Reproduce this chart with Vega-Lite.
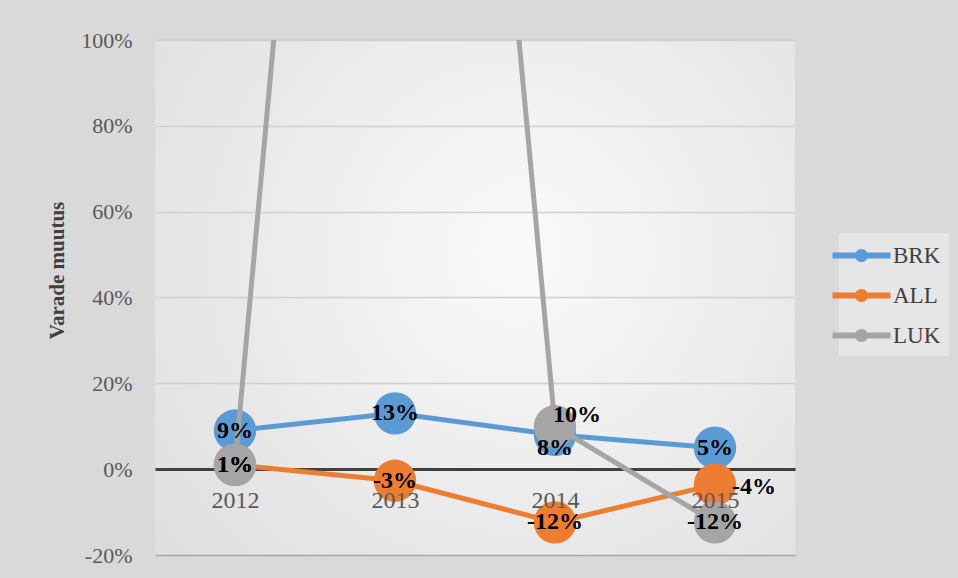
{
  "$schema": "https://vega.github.io/schema/vega-lite/v6.json",
  "width": 640,
  "height": 515,
  "autosize": {"type": "none"},
  "padding": {"left": 155, "top": 40, "right": 163, "bottom": 23},
  "background": "#d9d9d9",
  "config": {
    "locale": {
      "number": {"decimal": ".", "thousands": ",", "grouping": [3], "currency": ["$", ""], "minus": "-", "percent": "%"}
    },
    "font": "Liberation Serif",
    "view": {
      "stroke": null,
      "fill": {
        "gradient": "radial",
        "x1": 0.57, "y1": 0.43, "r1": 0,
        "x2": 0.57, "y2": 0.43, "r2": 0.8,
        "stops": [
          {"offset": 0, "color": "#fafafa"},
          {"offset": 1, "color": "#dcdcdc"}
        ]
      }
    }
  },
  "data": {
    "values": [
      {"series": "BRK", "year": "2012", "value": 0.09},
      {"series": "BRK", "year": "2013", "value": 0.13},
      {"series": "BRK", "year": "2014", "value": 0.08},
      {"series": "BRK", "year": "2015", "value": 0.05},
      {"series": "ALL", "year": "2012", "value": 0.01},
      {"series": "ALL", "year": "2013", "value": -0.027},
      {"series": "ALL", "year": "2014", "value": -0.124},
      {"series": "ALL", "year": "2015", "value": -0.036},
      {"series": "LUK", "year": "2012", "value": 0.01},
      {"series": "LUK", "year": "2013", "value": 4.1},
      {"series": "LUK", "year": "2014", "value": 0.10},
      {"series": "LUK", "year": "2015", "value": -0.124}
    ]
  },
  "resolve": {"axis": {"x": "independent"}},
  "encoding": {
    "x": {"field": "year", "type": "ordinal", "scale": {"type": "point", "padding": 0.5}, "axis": null},
    "y": {
      "field": "value", "type": "quantitative",
      "scale": {"domain": [-0.2, 1], "nice": false, "zero": false},
      "axis": {
        "values": [-0.2, 0, 0.2, 0.4, 0.6, 0.8, 1],
        "format": ".0%",
        "ticks": false,
        "domain": false,
        "grid": true,
        "gridColor": {"condition": {"test": "datum.value < -0.1", "value": "#a6a6a6"}, "value": "#d0d0d0"},
        "gridWidth": 1.5,
        "labelFont": "Liberation Serif",
        "labelFontSize": 22,
        "labelColor": "#595959",
        "labelPadding": 23,
        "title": "Varade muutus",
        "titleFont": "Liberation Serif",
        "titleFontSize": 21,
        "titleFontWeight": "bold",
        "titleColor": "#404040",
        "titleAngle": 270,
        "titleAlign": "center",
        "titleBaseline": "middle",
        "titleX": -98,
        "titleY": 230
      }
    },
    "color": {
      "field": "series", "type": "nominal",
      "scale": {"domain": ["BRK", "ALL", "LUK"], "range": ["#5b9bd5", "#ed7d31", "#a5a5a5"]},
      "legend": {
        "title": null,
        "orient": "none",
        "legendX": 684,
        "legendY": 193,
        "symbolType": "M-2,-0.2L-0.3,-0.2L-0.3,0.2L-2,0.2Z M0.3,-0.2L2,-0.2L2,0.2L0.3,0.2Z M-0.45,0A0.45,0.45,0,1,1,0.45,0A0.45,0.45,0,1,1,-0.45,0Z",
        "symbolSize": 841,
        "symbolStrokeWidth": 0,
        "labelFont": "Liberation Serif",
        "labelFontSize": 23,
        "labelColor": "#404040",
        "labelOffset": 17,
        "rowPadding": 13,
        "padding": 8,
        "fillColor": "#e6e6e6",
        "encode": {
          "symbols": {"update": {"fill": {"scale": "color", "field": "value"}, "stroke": {"value": "transparent"}}}
        }
      }
    }
  },
  "layer": [
    {
      "transform": [{"filter": "datum.series === 'BRK'"}],
      "mark": {"type": "line", "strokeWidth": 5, "clip": true},
      "encoding": {
        "x": {
          "field": "year", "type": "ordinal", "scale": {"type": "point", "padding": 0.5},
          "axis": {"orient": "bottom", "offset": -86, "domainColor": "#404040", "domainWidth": 3, "ticks": false, "labels": false, "grid": false, "title": null}
        }
      }
    },
    {
      "transform": [{"filter": "datum.series === 'BRK'"}],
      "mark": {"type": "circle", "size": 1800, "opacity": 1, "clip": true}
    },
    {
      "transform": [{"filter": "datum.series === 'ALL'"}],
      "mark": {"type": "line", "strokeWidth": 5, "clip": true}
    },
    {
      "transform": [{"filter": "datum.series === 'ALL'"}],
      "mark": {"type": "circle", "size": 1800, "opacity": 1, "clip": true}
    },
    {
      "transform": [{"filter": "datum.series === 'LUK'"}],
      "mark": {"type": "line", "strokeWidth": 5, "clip": true}
    },
    {
      "transform": [{"filter": "datum.series === 'LUK'"}],
      "mark": {"type": "circle", "size": 1800, "opacity": 1, "clip": true}
    },
    {
      "mark": {"type": "text", "text": "", "opacity": 0},
      "encoding": {
        "x": {
          "field": "year", "type": "ordinal", "scale": {"type": "point", "padding": 0.5},
          "axis": {"orient": "bottom", "offset": -86, "domain": false, "ticks": false, "grid": false, "title": null, "labelAngle": 0, "labelFont": "Liberation Serif", "labelFontSize": 24, "labelColor": "#595959", "labelPadding": 19, "zindex": 1}
        },
        "color": {"value": "black"}
      }
    },
    {
      "transform": [{"filter": "!((datum.series === 'BRK' && datum.year === '2014') || (datum.series === 'ALL' && datum.year === '2015') || (datum.series === 'LUK' && datum.year === '2014'))"}],
      "mark": {"type": "text", "font": "Liberation Serif", "fontSize": 24, "fontWeight": "bold", "clip": true, "baseline": "middle", "align": "center"},
      "encoding": {"text": {"field": "value", "format": ".0%"}, "color": {"value": "black"}}
    },
    {
      "transform": [{"filter": "datum.series === 'BRK' && datum.year === '2014'"}],
      "mark": {"type": "text", "font": "Liberation Serif", "fontSize": 24, "fontWeight": "bold", "clip": true, "baseline": "middle", "align": "center", "dy": 13},
      "encoding": {"text": {"field": "value", "format": ".0%"}, "color": {"value": "black"}}
    },
    {
      "transform": [{"filter": "datum.series === 'ALL' && datum.year === '2015'"}],
      "mark": {"type": "text", "font": "Liberation Serif", "fontSize": 24, "fontWeight": "bold", "clip": true, "baseline": "middle", "align": "left", "dx": 17, "dy": 2},
      "encoding": {"text": {"field": "value", "format": ".0%"}, "color": {"value": "black"}}
    },
    {
      "transform": [{"filter": "datum.series === 'LUK' && datum.year === '2014'"}],
      "mark": {"type": "text", "font": "Liberation Serif", "fontSize": 24, "fontWeight": "bold", "clip": true, "baseline": "middle", "align": "left", "dx": -2, "dy": -11},
      "encoding": {"text": {"field": "value", "format": ".0%"}, "color": {"value": "black"}}
    }
  ]
}
